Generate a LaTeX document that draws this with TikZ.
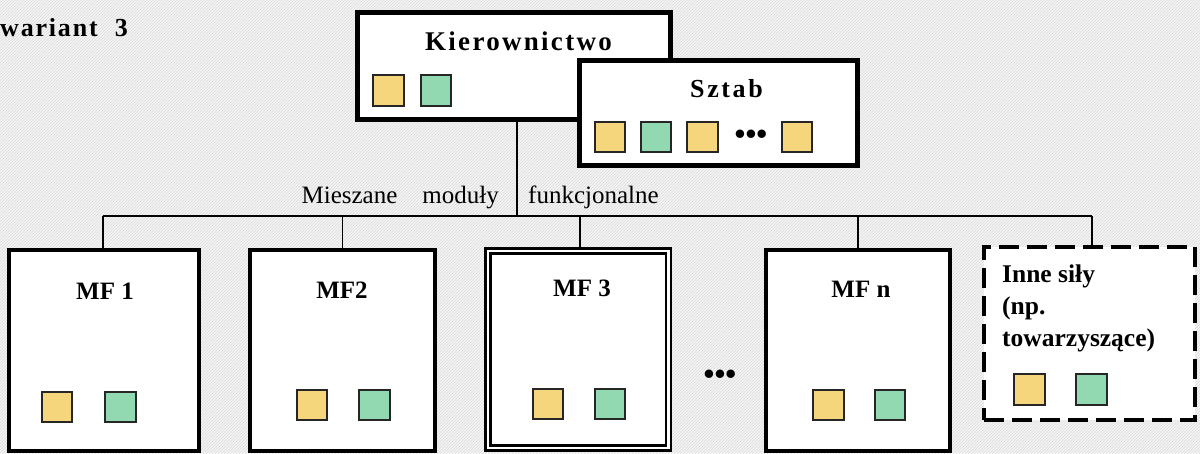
\documentclass[tikz,border=0pt]{standalone}
\usepackage{fontspec}
\setmainfont{Liberation Serif}
\usetikzlibrary{patterns}
\definecolor{sqY}{HTML}{F5D67C}
\definecolor{sqG}{HTML}{92D9B2}
\begin{document}
\begin{tikzpicture}[x=1pt,y=-1pt,
  box/.style={draw, fill=white, line width=4pt, inner sep=0pt},
  sq/.style={draw=black!85, line width=1.8pt, minimum size=30.5pt, inner sep=0pt},
  ysq/.style={sq, fill=sqY},
  gsq/.style={sq, fill=sqG},
  conn/.style={line width=1.6pt},
  lbl/.style={font=\fontsize{25}{30}\selectfont\bfseries, inner sep=0pt, anchor=base},
  dots/.style={font=\fontsize{31}{30}\selectfont\bfseries, inner sep=0pt},
  plain/.style={font=\fontsize{25}{30}\selectfont, inner sep=0pt}]
\useasboundingbox (0,0) rectangle (1200,453);
\fill[black!4] (0,0) rectangle (1200,453);
\fill[pattern=north east lines, pattern color=black!14] (0,0) rectangle (1200,453);

% title
\node[font=\fontsize{26}{28}\selectfont\bfseries\addfontfeatures{LetterSpace=7}, inner sep=0pt, anchor=base west] (title) at (0,36) {wariant\hspace{17pt}3};

% bus coordinates
\coordinate (busL) at (103,216);
\coordinate (busR) at (1092,216);

% Kierownictwo
\node[box, line width=5pt, minimum width=313pt, minimum height=107pt] (kier) at (514,66) {};
\node[lbl, font=\fontsize{27}{30}\selectfont\bfseries\addfontfeatures{LetterSpace=8.5}] (kierT) at (518.5,50) {Kierownictwo};
\node[ysq] (k1) at (388.5,90.5) {};
\node[gsq] (k2) at (436,90.5) {};

% connectors
\draw[conn] ([xshift=3pt]kier.south) -- ([xshift=3pt]kier.south |- busL);
\draw[conn] (busL) -- (busR);

% Sztab (overlapping)
\node[box, line width=5pt, minimum width=278pt, minimum height=105pt] (sztab) at (718.5,113) {};
\node[lbl, font=\fontsize{26}{30}\selectfont\bfseries\addfontfeatures{LetterSpace=10}] (sztabT) at (726.5,97) {Sztab};
\node[ysq] (s1) at (610,137) {};
\node[gsq] (s2) at (656,137) {};
\node[ysq] (s3) at (702.5,137) {};
\node[dots] (sd) at (751,137) {•••};
\node[ysq] (s4) at (797,137) {};

% Modules
\node[box, minimum width=190pt, minimum height=201pt] (mf1) at (104,350.5) {};
\node[box, minimum width=185pt, minimum height=201pt] (mf2) at (342.5,350.5) {};
\node[draw, fill=white, double, double distance=2.5pt, line width=2.5pt, inner sep=0pt, minimum width=180.5pt, minimum height=197pt] (mf3) at (578,349.4) {};
\node[box, minimum width=184pt, minimum height=201pt] (mfn) at (858,350.5) {};
\node[box, dash pattern=on 20pt off 8pt, minimum width=211pt, minimum height=173pt] (inne) at (1089.5,333.5) {};

\draw[conn] (mf1.north -| busL) -- (busL);
\draw[conn] (mf2.north) -- (mf2.north |- busL);
\draw[conn] ([xshift=2pt]mf3.north) -- ([xshift=2pt]mf3.north |- busL);
\draw[conn] (mfn.north) -- (mfn.north |- busL);
\draw[conn] (inne.north -| busR) -- (busR);

% bus label
\node[plain, anchor=base east] (lblA) at (499,203) {Mieszane\hspace{1em}moduły};
\node[plain, anchor=base west] (lblB) at (528,203) {funkcjonalne};

% module labels
\node[lbl] (mf1T) at (105,299) {MF 1};
\node[lbl] (mf2T) at (342,298) {MF2};
\node[lbl] (mf3T) at (582,296) {MF 3};
\node[lbl] (mfnT) at (861,297) {MF n};
\node[font=\fontsize{25.5}{32}\selectfont\bfseries, inner sep=0pt, anchor=north west, align=left] (inneT) at (1002,265) {Inne siły\\(np.\\towarzyszące)};

% squares
\node[ysq] (m11) at (57,407) {};
\node[gsq] (m12) at (120.5,407) {};
\node[ysq] (m21) at (312,405) {};
\node[gsq] (m22) at (374.5,405) {};
\node[ysq] (m31) at (548,404) {};
\node[gsq] (m32) at (610,404) {};
\node[ysq] (mn1) at (828.5,405) {};
\node[gsq] (mn2) at (890,405) {};
\node[ysq] (i1) at (1029.5,389.5) {};
\node[gsq] (i2) at (1091.5,389.5) {};

\node[dots] (md) at (720,377) {•••};
\end{tikzpicture}
\end{document}
